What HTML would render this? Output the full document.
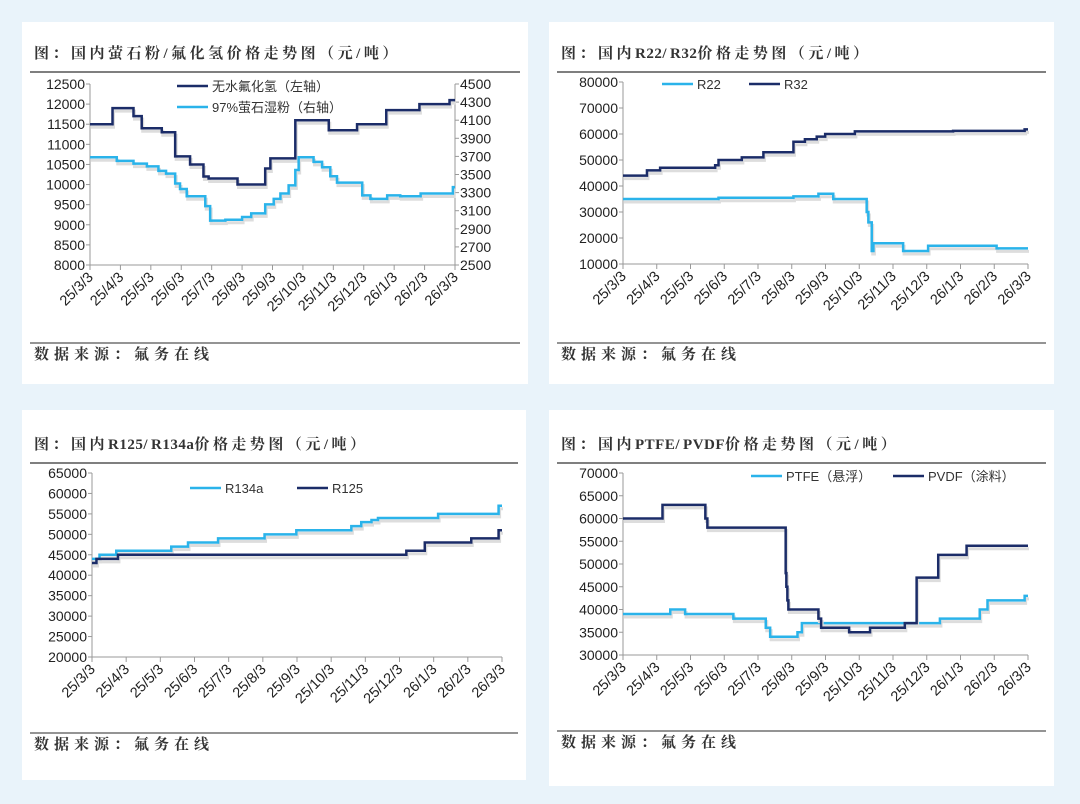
<!DOCTYPE html>
<html><head><meta charset="utf-8">
<style>
body{margin:0;background:#e9f3fa;}
svg{display:block;font-family:"Liberation Sans","Noto Sans CJK SC",sans-serif;}
.t{font-family:"Liberation Serif","Noto Serif CJK SC",serif;font-weight:bold;font-size:15px;fill:#333;letter-spacing:3.5px}
.src{font-family:"Liberation Serif","Noto Serif CJK SC",serif;font-weight:bold;font-size:15px;fill:#333;letter-spacing:5px}
.tk{font-size:14px;fill:#222}
.xl{font-size:14.5px;fill:#222}
.lg{font-size:13px;fill:#333}
</style></head><body>
<svg id="s" width="1080" height="804" viewBox="0 0 1080 804">
<rect x="22" y="22" width="506" height="362" fill="#fff"/>
<rect x="549" y="22" width="505" height="362" fill="#fff"/>
<rect x="22" y="410" width="504" height="370" fill="#fff"/>
<rect x="549" y="410" width="505" height="376" fill="#fff"/>
</svg>
<script>
const xLabels=["25/3/3","25/4/3","25/5/3","25/6/3","25/7/3","25/8/3","25/9/3","25/10/3","25/11/3","25/12/3","26/1/3","26/2/3","26/3/3"];
// chart 1
const c1Ticks=[8000,8500,9000,9500,10000,10500,11000,11500,12000,12500];
const c1RTicks=[2500,2700,2900,3100,3300,3500,3700,3900,4100,4300,4500];
const hfX=[0,0.74,1.43,1.70,2.36,2.8,3.29,3.73,3.9,4.85,5.76,5.93,6.75,7.85,8.78,9.74,10.83,11.82,12];
const hfV=[11500,11900,11700,11400,11300,10700,10500,10200,10150,10000,10400,10650,11600,11350,11500,11850,12000,12100,12100];
const flX=[0,0.88,1.43,1.87,2.25,2.5,2.8,2.96,3.18,3.79,3.95,4.45,5.0,5.3,5.76,6.04,6.26,6.53,6.75,6.86,7.35,7.63,7.9,8.12,8.95,9.22,9.77,10.2,10.87,11.93,12];
const flV=[3690,3650,3620,3590,3540,3510,3400,3340,3260,3150,2990,3000,3030,3070,3170,3230,3290,3380,3550,3690,3640,3580,3480,3410,3270,3230,3270,3260,3290,3360,3360];
// chart 2
const c2Ticks=[10000,20000,30000,40000,50000,60000,70000,80000];
const r32X=[0,0.71,1.1,2.73,2.83,3.52,4.16,5.05,5.39,5.74,5.99,6.87,9.78,11.9,12];
const r32V=[44000,46000,47000,48000,50000,51000,53000,57000,58000,59000,60000,61000,61200,61800,61800];
const r22X=[0,2.83,5.05,5.79,6.23,7.22,7.27,7.37,7.42,8.3,9.04,11.07,12];
const r22V=[35000,35500,36000,37000,35000,30000,26000,15000,18000,15000,17000,16000,16000];
// chart 3
const c3Ticks=[20000,25000,30000,35000,40000,45000,50000,55000,60000,65000];
const r134X=[0,0.22,0.71,2.32,2.81,3.69,5.05,5.98,7.59,7.88,8.18,8.37,10.13,11.9,12];
const r134V=[44000,45000,46000,47000,48000,49000,50000,51000,52000,53000,53500,54000,55000,57000,57000];
const r125X=[0,0.13,0.76,9.2,9.74,11.1,11.9,12];
const r125V=[43000,44000,45000,46000,48000,49000,51000,51000];
// chart 4
const c4Ticks=[30000,35000,40000,45000,50000,55000,60000,65000,70000];
const pvdfX=[0,1.17,2.44,2.5,4.82,4.84,4.87,4.9,5.79,5.87,6.7,7.32,8.35,8.7,9.34,10.18,12];
const pvdfV=[60000,63000,60000,58000,48000,45000,42000,40000,38000,36000,35000,36000,37000,47000,52000,54000,54000];
const ptfeX=[0,1.4,1.84,3.27,4.23,4.36,5.17,5.3,9.39,10.57,10.8,11.9,12];
const ptfeV=[39000,40000,39000,38000,36000,34000,35000,37000,38000,40000,42000,43000,43000];

const DARK="#1b2c68",LIGHT="#2ab3ea";
const svg=document.getElementById('s');
const NS="http://www.w3.org/2000/svg";
function mk(tag,at,parent){const e=document.createElementNS(NS,tag);for(const k in at)e.setAttribute(k,at[k]);(parent||svg).appendChild(e);return e;}

function chart(o){
  const g=mk('g',{});
  
  
  const sx=m=>o.L+(o.R-o.L)*m/12;
  const sy=v=>o.B-(o.B-o.T)*(v-o.ymin)/(o.ymax-o.ymin);
  const sy2=v=>o.B-(o.B-o.T)*(v-o.y2min)/(o.y2max-o.y2min);
  let t=mk('text',{x:o.px+12,y:o.ty,class:'t'},g);
  // Latin runs get normal spacing
  o.title.split(/([A-Za-z0-9]+)/).forEach(part=>{
    if(!part)return;
    const sp=mk('tspan',{},t);sp.textContent=part;
    if(/^[A-Za-z0-9]+$/.test(part))sp.setAttribute('style','letter-spacing:0.5px');
  });
  
  
  let r=mk('line',{x1:o.px+8,x2:o.px+o.pw-8,y1:o.ty+14,y2:o.ty+14,stroke:'#555','stroke-width':1.5},g);
  
  
  r=mk('line',{x1:o.px+8,x2:o.px+o.pw-8,y1:o.sy,y2:o.sy,stroke:'#555','stroke-width':1.2},g);
  
  
  t=mk('text',{x:o.px+12,y:o.sy+16,class:'src'},g);t.textContent="数据来源：氟务在线";
  
  
  mk('line',{x1:o.L,x2:o.L,y1:o.T,y2:o.B,stroke:'#999'},g);
  mk('line',{x1:o.L,x2:o.R,y1:o.B,y2:o.B,stroke:'#999'},g);
  if(o.ticks2) mk('line',{x1:o.R,x2:o.R,y1:o.T,y2:o.B,stroke:'#999'},g);
  o.ticks.forEach(v=>{
    mk('line',{x1:o.L-4,x2:o.L,y1:sy(v),y2:sy(v),stroke:'#999'},g);
    const e=mk('text',{x:o.L-5,y:sy(v)+5,class:'tk','text-anchor':'end'},g);e.textContent=v;
    
    
  });
  if(o.ticks2)o.ticks2.forEach(v=>{
    mk('line',{x1:o.R,x2:o.R+4,y1:sy2(v),y2:sy2(v),stroke:'#999'},g);
    const e=mk('text',{x:o.R+5,y:sy2(v)+5,class:'tk'},g);e.textContent=v;
    
    
  });
  xLabels.forEach((lb,i)=>{
    const x=sx(i);
    mk('line',{x1:x,x2:x,y1:o.B,y2:o.B+5,stroke:'#999'},g);
    const e=mk('text',{x:x+4,y:o.B+13,class:'xl','text-anchor':'end',transform:`rotate(-45 ${x+4} ${o.B+13})`},g);e.textContent=lb;
    
    
  });
  o.series.forEach(s=>{
    const f=s.axis2?sy2:sy;
    let d="";
    s.x.forEach((m,i)=>{const X=sx(m),Y=f(s.v[i]);
      if(i==0)d+=`M${X},${Y}`;else d+=`H${X}V${Y}`;});
    mk('path',{d:d,fill:'none',stroke:'#ddd','stroke-width':3,transform:'translate(1,3)'},g);
    const p=mk('path',{d:d,fill:'none',stroke:s.c,'stroke-width':2.5},g);
    
    
    mk('line',{x1:s.lx,x2:s.lx+31,y1:s.ly,y2:s.ly,stroke:s.c,'stroke-width':2.5},g);
    const e=mk('text',{x:s.lx+35,y:s.ly+5,class:'lg'},g);e.textContent=s.label;
    
    
  });
}
chart({name:'fluorite-hf-chart',px:22,pw:506,ty:58,sy:343,title:"图：国内萤石粉/氟化氢价格走势图（元/吨）",
 L:90,R:455,T:84,B:265,ymin:8000,ymax:12500,ticks:c1Ticks,y2min:2500,y2max:4500,ticks2:c1RTicks,
 series:[{name:'hf',label:'无水氟化氢（左轴）',x:hfX,v:hfV,c:DARK,lx:177,ly:86},
         {name:'fluorite',label:'97%萤石湿粉（右轴）',x:flX,v:flV,c:LIGHT,axis2:true,lx:177,ly:107}]});
chart({name:'r22-r32-chart',px:549,pw:505,ty:58,sy:343,title:"图：国内R22/R32价格走势图（元/吨）",
 L:623,R:1028,T:82,B:264,ymin:10000,ymax:80000,ticks:c2Ticks,
 series:[{name:'r22',label:'R22',x:r22X,v:r22V,c:LIGHT,lx:662,ly:84},
         {name:'r32',label:'R32',x:r32X,v:r32V,c:DARK,lx:749,ly:84}]});
chart({name:'r125-r134a-chart',px:22,pw:504,ty:449,sy:733,title:"图：国内R125/R134a价格走势图（元/吨）",
 L:92,R:502,T:473,B:657,ymin:20000,ymax:65000,ticks:c3Ticks,
 series:[{name:'r134a',label:'R134a',x:r134X,v:r134V,c:LIGHT,lx:190,ly:488},
         {name:'r125',label:'R125',x:r125X,v:r125V,c:DARK,lx:297,ly:488}]});
chart({name:'ptfe-pvdf-chart',px:549,pw:505,ty:449,sy:731,title:"图：国内PTFE/PVDF价格走势图（元/吨）",
 L:623,R:1028,T:473,B:655,ymin:30000,ymax:70000,ticks:c4Ticks,
 series:[{name:'ptfe',label:'PTFE（悬浮）',x:ptfeX,v:ptfeV,c:LIGHT,lx:751,ly:476},
         {name:'pvdf',label:'PVDF（涂料）',x:pvdfX,v:pvdfV,c:DARK,lx:893,ly:476}]});
</script>
</body></html>
